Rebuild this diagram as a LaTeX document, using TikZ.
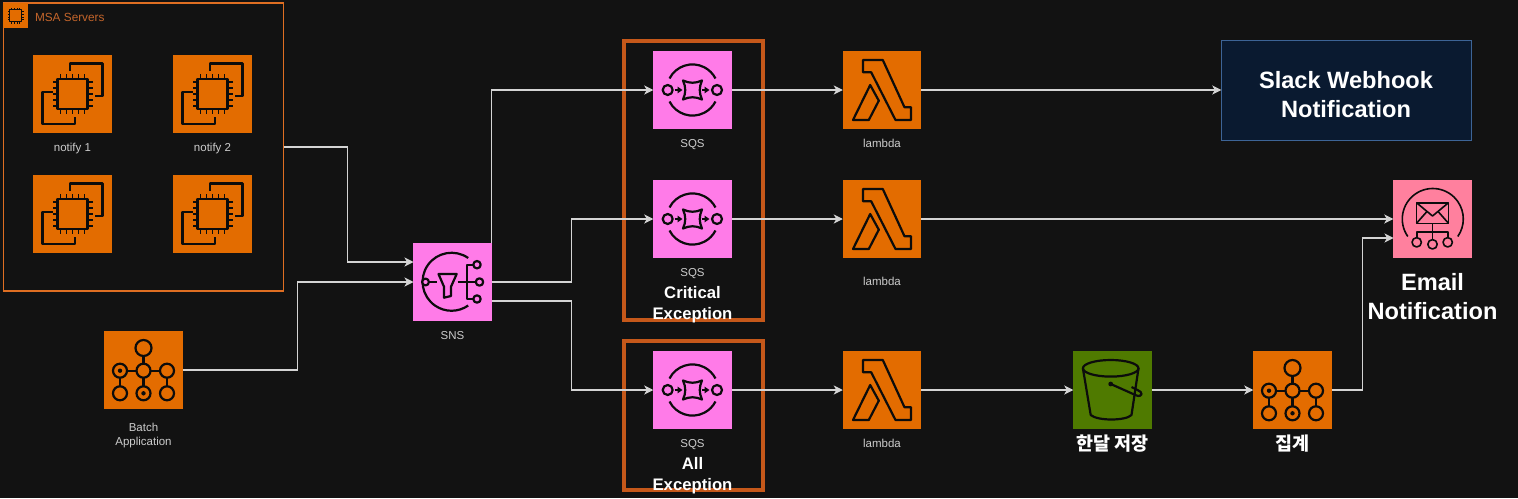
\documentclass[tikz,border=0pt]{standalone}
\usepackage{fontspec}
\setmainfont{Liberation Sans}
\newfontfamily\cjk{Noto Sans CJK KR}
\usetikzlibrary{positioning}
\usetikzlibrary{calc}
\usetikzlibrary{arrows.meta}
\definecolor{bgc}{HTML}{121212}
\definecolor{awsorange}{HTML}{E36C00}
\definecolor{awspink}{HTML}{FF7BE8}
\definecolor{awsgreen}{HTML}{4F7A00}
\definecolor{awsrose}{HTML}{FF809E}
\definecolor{grpc}{HTML}{DE6E22}
\definecolor{grptext}{HTML}{C4652B}
\definecolor{hlc}{HTML}{C5581A}
\definecolor{slackfill}{HTML}{0A1A30}
\definecolor{slackline}{HTML}{3D6496}
\definecolor{labelc}{HTML}{CCCCCC}
\definecolor{linec}{HTML}{D4D4D4}
\definecolor{inkc}{HTML}{0C0C0C}
\tikzset{
ic/.style={
  rectangle,
  inner sep=0pt,
  outer sep=0pt,
  minimum size=78.5pt
  },
orangeic/.style={ic,fill=awsorange},
pinkic/.style={ic,fill=awspink},
lbl/.style={
  inner sep=0pt,
  align=center,
  text=labelc,
  text height=9pt,
  text depth=2.5pt,
  font=\fontsize{11.5}{14}\selectfont
  },
big/.style={
  inner sep=0pt,
  align=center,
  text=white,
  font=\fontsize{16.7}{21}\selectfont\bfseries
  },
huge/.style={
  inner sep=0pt,
  align=center,
  text=white,
  font=\fontsize{23.6}{29}\selectfont\bfseries
  },
kor/.style={
  inner sep=0pt,
  align=center,
  text=white,
  font=\fontsize{18.5}{21}\selectfont\bfseries\cjk
  },
hl/.style={
  rectangle,
  inner sep=0pt,
  outer sep=0pt,
  draw=hlc,
  line width=4pt,
  minimum width=139pt
  },
ink/.style={-,draw=inkc,line width=2.2pt,line join=round},
thinink/.style={ink,line width=1.6pt},
ec2chip/.pic={
  \draw[ink] (-15,-15) rectangle (15,15);
  \foreach \p in {-12,-6,0,6,12} {
    \draw[thinink] (\p,-15) -- (\p,-20) (\p,15) -- (\p,20);
    \draw[thinink] (-15,\p) -- (-20,\p) (15,\p) -- (20,\p);
  }
  \draw[ink] (-2.5,-23.5) -- (-2.5,-30.5) -- (30,-30.5) -- (30,2) -- (22.5,2);
  \draw[ink] (-20,-2.3) -- (-30,-2.3) -- (-30,30) -- (2.5,30) -- (2.5,22.7);
  },
smallchip/.pic={
  \draw[ink,line width=.8pt] (-6,-6) rectangle (6,6);
  \foreach \p in {-4,-1.3,1.3,4} {
    \draw[ink,line width=.6pt] (\p,-6) -- (\p,-8) (\p,6) -- (\p,8);
    \draw[ink,line width=.6pt] (-6,\p) -- (-8,\p) (6,\p) -- (8,\p);
  }
  },
stepflow/.pic={
  \draw[ink] (0,-14) -- (0,23) (-23.5,.7) -- (23.5,.7);
  \draw[ink] (-23.5,.7) -- (-23.5,23) (23.5,.7) -- (23.5,23);
  \draw[ink,fill=awsorange] (0,-22) circle (8);
  \foreach \cx/\cy in {0/.7,-23.5/.7,23.5/.7,-23.5/23.3,0/23.3,23.5/23.3}
    \draw[ink,fill=awsorange] (\cx,\cy) circle (7);
  \fill[inkc] (-23.5,.7) circle (2.2) (0,23.3) circle (2.2);
  },
snsglyph/.pic={
  \draw[ink] (15.7,-24) arc[start angle=-55,end angle=-305,radius=29];
  \draw[ink] (-24,0) -- (-15.5,0) (5,0) -- (23.5,0);
  \draw[ink,fill=awspink] (-27,0) circle (3.4);
  \draw[ink] (-14,-8) -- (4.2,-8) -- (-1.5,4.7) -- (-1.5,14) -- (-8.5,15.7) -- (-8.5,4.7) -- cycle;
  \draw[ink] (21,-17.3) -- (14.2,-17.3) -- (14.2,17) -- (21,17);
  \draw[ink,fill=awspink] (24.5,-17.3) circle (3.7) (27,0) circle (3.7) (24.5,17) circle (3.7);
  },
sqsglyph/.pic={
  \draw[ink] (-23,-11.5) arc[start angle=-153,end angle=-27,radius=25.8];
  \draw[ink] (-23,11.5) arc[start angle=153,end angle=27,radius=25.8];
  \draw[ink,fill=awspink] (-24.8,0) circle (5) (24.5,0) circle (5);
  \draw[ink] (-9.5,-9.5) .. controls (-3,-6.5) and (3,-6.5) .. (9.5,-9.5)
    .. controls (6.5,-3) and (6.5,3) .. (9.5,9.5)
    .. controls (3,6.5) and (-3,6.5) .. (-9.5,9.5)
    .. controls (-6.5,3) and (-6.5,-3) .. (-9.5,-9.5) -- cycle;
  \draw[ink,-{Triangle[length=5pt,width=6.5pt]}] (-18,0) -- (-10,0);
  \draw[ink,-{Triangle[length=5pt,width=6.5pt]}] (9,0) -- (17,0);
  },
lambdaglyph/.pic={
  \draw[ink] (-19,-30) -- (.8,-30) -- (22.5,17.3) -- (29,17.3) -- (29,30) -- (13.5,30)
    -- (-10.8,-17.7) -- (-19,-17.7) -- cycle;
  \draw[ink] (-11.8,-5) -- (-3.2,10.7) -- (-13.2,30) -- (-29,30) -- cycle;
  },
bucketglyph/.pic={
  \draw[ink] (-1.8,-21.7) ellipse (27.8 and 8.3);
  \draw[ink] (-29.6,-21.7) -- (-21.8,25) .. controls (-15,31) and (13,31) .. (19,25) -- (26,-21.7);
  \fill[inkc] (-1.8,-6) circle (2.4);
  \draw[ink] (-1.8,-6) -- (24,5.5) .. controls (30,7.5) and (31,2) .. (25,0) -- (19,-3);
  },
mailglyph/.pic={
  \draw[thinink] (-24.7,17.5) arc[start angle=145,end angle=395,radius=30.5];
  \draw[thinink] (-16,-16.3) rectangle (16,4.3);
  \draw[thinink] (-16,-16.3) -- (0,-3) -- (16,-16.3);
  \draw[thinink] (-16,4.3) -- (-6,-7) (16,4.3) -- (6,-7);
  \draw[thinink] (0,4.3) -- (0,21) (-15.8,19) -- (-15.8,12.7) -- (15.2,12.7) -- (15.2,19);
  \draw[thinink,fill=awsrose] (-15.8,23.3) circle (4.7) (0,25.3) circle (4.7) (15.2,23.3) circle (4.7);
  }
}

\begin{document}
\begin{tikzpicture}[x=1pt,y=-1pt,>={Stealth[length=9pt,width=9pt,inset=2.5pt]},line width=1.1pt,node distance=54.5pt]
    \useasboundingbox (0,0) rectangle (1518,498);
    \fill[bgc] (0,0) rectangle (1518,498);
    % group and highlight frames
    \node[draw=grpc,line width=1.1pt,inner sep=0pt,outer sep=0pt,minimum width=280.5pt,minimum height=288pt] (msa) at (143.5,147) {};
    \node[rectangle,fill=awsorange,inner sep=0pt,minimum size=25pt] (msaicon) at (15.5,15.5) {};
    \pic at (msaicon) {smallchip};
    \node[lbl,text=grptext,anchor=west,font=\fontsize{11.8}{14}\selectfont] (msalabel) at (34.5,18) {MSA Servers};
    \node[hl,minimum height=279pt] (critbox) at (693.5,180.5) {};
    \node[hl,minimum height=149pt] (allbox) at (693.5,415.5) {};
    % servers
    \node[orangeic] (eca) at (72.5,94) {};
    \node[orangeic] (ecb) at (212.5,94) {};
    \node[orangeic] (ecc) at (72.5,214) {};
    \node[orangeic] (ecd) at (212.5,214) {};
    \foreach \n in {eca,ecb,ecc,ecd} \pic at (\n) {ec2chip};
    \node[lbl] (ecalabel) [below of=eca] {notify 1};
    \node[lbl] (ecblabel) [below of=ecb] {notify 2};
    % batch and sns
    \node[orangeic] (batch) at (143.5,370) {};
    \pic at (batch) {stepflow};
    \node[lbl,text height=,text depth=] (batchlabel) [below of=batch,node distance=66pt] {Batch\\Application};
    \node[pinkic] (sns) at (452.5,282) {};
    \pic at (sns) {snsglyph};
    \node[lbl] (snslabel) [below of=sns] {SNS};
    % queues
    \node[pinkic] (sqsa) at (692.5,90) {};
    \node[pinkic] (sqsb) at (692.5,219) {};
    \node[pinkic] (sqsc) at (692.5,390) {};
    \foreach \n in {sqsa,sqsb,sqsc} {
      \pic at (\n) {sqsglyph};
      \node[lbl] (\n label) [below of=\n] {SQS};
    }
    \node[big] (critlabel) at (692.5,304.5) {Critical\\Exception};
    \node[big] (alllabel) at (692.5,475.5) {All\\Exception};
    % lambdas
    \node[orangeic] (lama) at (882,90) {};
    \node[orangeic] (lamb) at (882,219) {};
    \node[orangeic] (lamc) at (882,390) {};
    \foreach \n in {lama,lamb,lamc} \pic at (\n) {lambdaglyph};
    \node[lbl] (lamalabel) [below of=lama] {lambda};
    \node[lbl] (lamblabel) [below of=lamb,node distance=63pt] {lambda};
    \node[lbl] (lamclabel) [below of=lamc] {lambda};
    % right side
    \node[draw=slackline,line width=1pt,fill=slackfill,inner sep=0pt,outer sep=0pt,minimum width=250.5pt,minimum height=100pt] (slack) at (1346.5,90) {};
    \node[huge] (slacklabel) at (1346,95) {Slack Webhook\\Notification};
    \node[ic,fill=awsrose] (mail) at (1432.5,219) {};
    \pic at (mail) {mailglyph};
    \node[huge] (maillabel) at (1432.5,296.5) {Email\\Notification};
    \node[ic,fill=awsgreen] (bucket) at (1112.5,390) {};
    \pic at (bucket) {bucketglyph};
    \node[kor] (bucketlabel) [below of=bucket,node distance=54pt] {한달 저장};
    \node[orangeic] (agg) at (1292.5,390) {};
    \pic at (agg) {stepflow};
    \node[kor] (agglabel) [below of=agg,node distance=54pt] {집계};
    % free ends
    \coordinate (snsina) at (413.5,262);
    \coordinate (snsinb) at (413.5,282);
    \coordinate (snsout) at (491.5,301);
    \coordinate (mailin) at (1393.5,238);
    \begin{scope}[draw=linec]
    \draw[->] (msa.east) -- ++(64,0) |- (snsina);
    \draw[->] (batch.east) -- ++(115,0) |- (snsinb);
    \draw[->] (sns.north east) |- (sqsa);
    \draw[->] (sns.east) -- ++(80,0) |- (sqsb);
    \draw[->] (snsout) -- ++(80,0) |- (sqsc);
    \draw[->] (agg.east) -- ++(30.5,0) |- (mailin);
    \path[->]
    (sqsa) edge (lama)
    (sqsb) edge (lamb)
    (sqsc) edge (lamc)
    (lama) edge (slack)
    (lamb) edge (mail)
    (lamc) edge (bucket)
    (bucket) edge (agg)
    ;
    \end{scope}
\end{tikzpicture}
\end{document}
